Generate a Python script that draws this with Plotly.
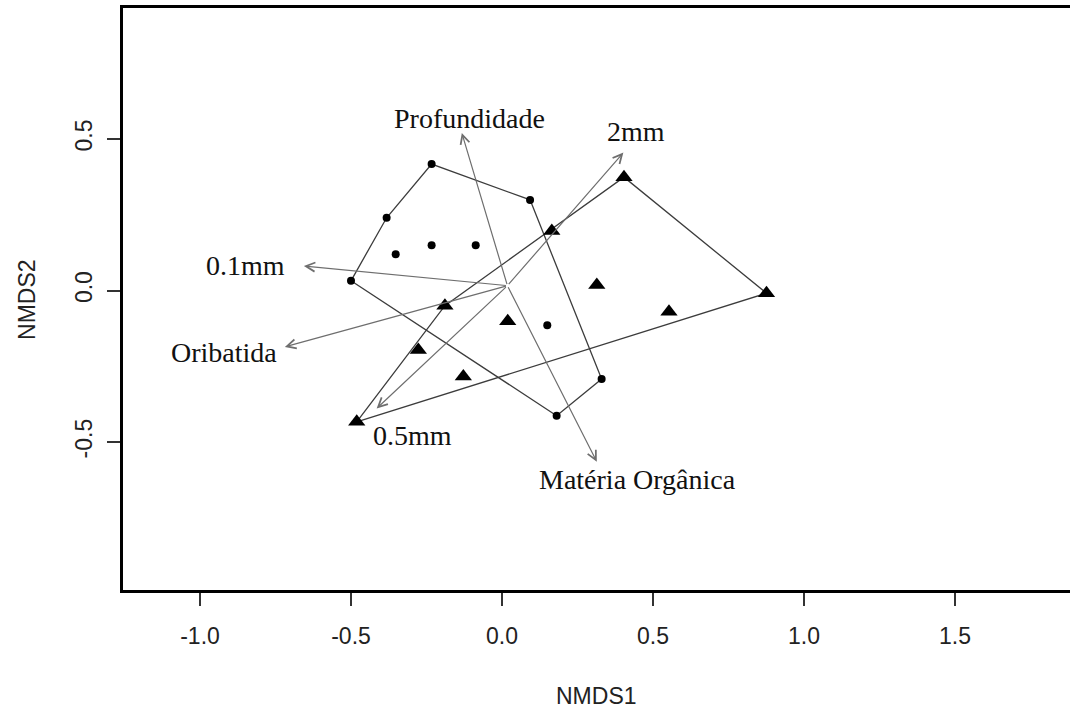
import plotly.graph_objects as go

# NMDS site scores, group 1 (dots)
dots_x = [-0.233, 0.093, -0.382, -0.352, -0.233, -0.087, -0.500, 0.150, 0.330, 0.181]
dots_y = [0.417, 0.299, 0.240, 0.120, 0.149, 0.149, 0.032, -0.115, -0.292, -0.413]

# NMDS site scores, group 2 (triangles)
tri_x = [0.165, -0.189, 0.019, -0.277, -0.128, -0.481, 0.314, 0.404, 0.876, 0.553]
tri_y = [0.196, -0.050, -0.101, -0.196, -0.284, -0.433, 0.018, 0.374, -0.009, -0.070]

# Fitted environmental vectors (envfit)
vec_names = ["Profundidade", "2mm", "0.1mm", "Oribatida", "0.5mm", "Matéria Orgânica"]
vec_x = [-0.133, 0.402, -0.656, -0.719, -0.415, 0.314]
vec_y = [0.520, 0.455, 0.081, -0.186, -0.389, -0.565]
vec_origin = (0.018, 0.016)

# Label positions for the vectors
lab_x = [-0.106, 0.445, -0.851, -0.921, -0.296, 0.450]
lab_y = [0.566, 0.523, 0.081, -0.206, -0.477, -0.625]

x_ticks = [-1.0, -0.5, 0.0, 0.5, 1.0, 1.5]
y_ticks = [-0.5, 0.0, 0.5]


def convex_hull(xs, ys):
    pts = sorted(set(zip(xs, ys)))

    def cross(o, a, b):
        return (a[0] - o[0]) * (b[1] - o[1]) - (a[1] - o[1]) * (b[0] - o[0])

    lower, upper = [], []
    for p in pts:
        while len(lower) >= 2 and cross(lower[-2], lower[-1], p) <= 0:
            lower.pop()
        lower.append(p)
    for p in reversed(pts):
        while len(upper) >= 2 and cross(upper[-2], upper[-1], p) <= 0:
            upper.pop()
        upper.append(p)
    hull = lower[:-1] + upper[:-1]
    hull.append(hull[0])
    return [p[0] for p in hull], [p[1] for p in hull]


fig = go.Figure()

for xs, ys in [(dots_x, dots_y), (tri_x, tri_y)]:
    hx, hy = convex_hull(xs, ys)
    fig.add_trace(go.Scatter(x=hx, y=hy, mode="lines",
                             line=dict(color="#3c3c3c", width=1.3),
                             hoverinfo="skip", showlegend=False))

fig.add_trace(go.Scatter(x=dots_x, y=dots_y, mode="markers",
                         marker=dict(symbol="circle", size=8, color="black"),
                         showlegend=False))
fig.add_trace(go.Scatter(x=tri_x, y=tri_y, mode="markers",
                         marker=dict(symbol="triangle-up", size=15, color="black"),
                         showlegend=False))

annotations = []
for vx, vy in zip(vec_x, vec_y):
    annotations.append(dict(x=vx, y=vy, ax=vec_origin[0], ay=vec_origin[1],
                            xref="x", yref="y", axref="x", ayref="y",
                            text="", showarrow=True, arrowhead=5, arrowsize=1.5,
                            arrowwidth=1.2, arrowcolor="#6e6e6e", standoff=0))
for name, lx, ly in zip(vec_names, lab_x, lab_y):
    annotations.append(dict(x=lx, y=ly, xref="x", yref="y", text=name,
                            showarrow=False, xanchor="center", yanchor="middle",
                            font=dict(family="Liberation Serif", size=28, color="#111111")))

# Axis titles
annotations.append(dict(x=0.5, y=-0.182, xref="paper", yref="paper", text="NMDS1",
                        showarrow=False, xanchor="center", yanchor="middle",
                        font=dict(family="Liberation Sans", size=23, color="#222222")))
annotations.append(dict(x=-0.1014, y=0.5, xref="paper", yref="paper", text="NMDS2",
                        showarrow=False, xanchor="center", yanchor="middle", textangle=-90,
                        font=dict(family="Liberation Sans", size=23, color="#222222")))

axis_common = dict(showgrid=False, zeroline=False, showline=True, linewidth=3,
                   linecolor="black", ticks="outside", ticklen=13, tickwidth=1.5,
                   tickcolor="#333333",
                   tickfont=dict(family="Liberation Sans", size=23, color="#222222"))

fig.update_layout(
    width=1070, height=711,
    margin=dict(l=123, r=0, t=8, b=121),
    plot_bgcolor="white", paper_bgcolor="white",
    xaxis=dict(range=[-1.255, 1.881], tickvals=x_ticks,
               ticktext=[f"{v:.1f}" for v in x_ticks], mirror=True,
               ticklabelstandoff=10, **axis_common),
    yaxis=dict(range=[-0.988, 0.932], tickvals=y_ticks,
               ticktext=[f"{v:.1f}" for v in y_ticks], mirror=False,
               tickangle=-90, ticklabelstandoff=6, **axis_common),
    annotations=annotations,
)

fig.write_html("out.html")
